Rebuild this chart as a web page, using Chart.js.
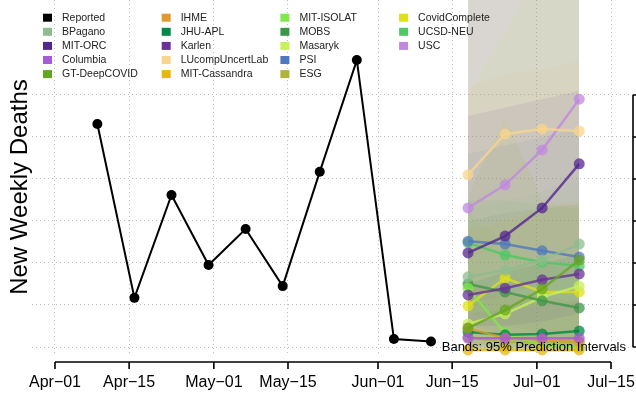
<!DOCTYPE html>
<html>
<head>
<meta charset="utf-8">
<script src="https://cdn.jsdelivr.net/npm/chart.js@4/dist/chart.umd.min.js"></script>
<style>
  html, body { margin: 0; padding: 0; background: #fff; }
  #wrap { width: 636px; height: 397px; }
</style>
</head>
<body>
<div id="wrap"><canvas id="deaths"></canvas></div>
<script>
// observed weekly deaths
var reportedDates = ['2020-04-09', '2020-04-16', '2020-04-23', '2020-04-30', '2020-05-07',
  '2020-05-14', '2020-05-21', '2020-05-28', '2020-06-04', '2020-06-11'];
var reportedDeaths = [631, 217, 462, 295, 381, 245, 517, 783, 119, 113];

// forecasts, one row per model
var forecastDates = ['2020-06-18', '2020-06-25', '2020-07-02', '2020-07-09'];
var modelNames = ['BPagano', 'MIT-ORC', 'Columbia', 'GT-DeepCOVID', 'IHME', 'JHU-APL', 'Karlen',
  'LUcompUncertLab', 'MIT-Cassandra', 'MIT-ISOLAT', 'MOBS', 'Masaryk', 'PSI', 'ESG',
  'CovidComplete', 'UCSD-NEU', 'USC'];
var modelColors = ['143,188,143', '84,39,143', '166,90,214', '102,166,30', '224,154,48', '0,136,68',
  '106,50,150', '248,212,140', '230,184,10', '127,232,72', '62,150,72', '200,240,90', '80,120,190',
  '176,180,56', '224,224,20', '80,200,100', '192,136,224'];
var medianDeaths = [
  [267, 283, 307, 345], [324, 364, 431, 536], [121, 121, 121, 121], [145, 188, 238, 307],
  [145, 121, 117, 112], [136, 129, 131, 138], [224, 240, 260, 274], [510, 607, 619, 614],
  [93, 93, 93, 93], [240, 133, 105, 100], [250, 231, 210, 193], [155, 179, 219, 245],
  [352, 345, 329, 314], [124, 112, 112, 112], [198, 264, 231, 231], [348, 319, 302, 293],
  [431, 486, 569, 690]
];
var upperDeaths = [
  [430, 450, 470, 500], [950, 1100, 1300, 1500], [180, 190, 200, 210], [950, 1050, 1150, 1300],
  [250, 230, 220, 210], [250, 280, 300, 320], [650, 670, 690, 710], [720, 750, 760, 780],
  [380, 400, 430, 450], [420, 350, 300, 280], [400, 420, 430, 440], [700, 850, 1000, 1200],
  [560, 580, 600, 620], [950, 1000, 1100, 1200], [460, 650, 450, 430], [450, 450, 440, 430],
  [1000, 1200, 1400, 1600]
];
var lowerDeaths = [
  [120, 110, 110, 110], [150, 150, 160, 180], [95, 95, 95, 95], [90, 90, 90, 90],
  [95, 92, 90, 90], [95, 92, 90, 90], [100, 100, 100, 100], [300, 350, 330, 320],
  [88, 88, 88, 88], [95, 90, 88, 88], [110, 100, 95, 90], [95, 95, 100, 100],
  [150, 130, 110, 100], [90, 90, 90, 90], [100, 110, 100, 100], [180, 150, 130, 120],
  [200, 220, 250, 280]
];

// axes
var xTickDates = ['2020-04-01', '2020-04-15', '2020-05-01', '2020-05-15', '2020-06-01',
  '2020-06-15', '2020-07-01', '2020-07-15'];
var xTickLabels = ['Apr\u221201', 'Apr\u221215', 'May\u221201', 'May\u221215', 'Jun\u221201',
  'Jun\u221215', 'Jul\u221201', 'Jul\u221215'];
var yTickValues = [100, 200, 300, 400, 500, 600, 700];

var FONT = '"Liberation Sans", Arial, Helvetica, sans-serif';

function dayOf(s) {
  return (Date.parse(s) - Date.parse('2020-04-01')) / 86400000;
}
function toPoints(dates, vals) {
  return dates.map(function (d, i) { return { x: dayOf(d), y: vals[i] }; });
}

var datasets = [{
  label: 'Reported',
  data: toPoints(reportedDates, reportedDeaths),
  borderColor: '#000',
  backgroundColor: '#000',
  borderWidth: 2,
  pointRadius: 5,
  pointBorderWidth: 0,
  legendColor: '#000',
  tension: 0
}];
modelNames.forEach(function (name, i) {
  datasets.push({
    label: name,
    data: toPoints(forecastDates, medianDeaths[i]),
    borderColor: 'rgba(' + modelColors[i] + ',0.8)',
    backgroundColor: 'rgba(' + modelColors[i] + ',0.75)',
    borderWidth: 2.5,
    pointRadius: 5.5,
    pointBorderWidth: 0,
    legendColor: 'rgb(' + modelColors[i] + ')',
    tension: 0
  });
});
// prediction bands go last so they are painted underneath
modelNames.forEach(function (name, i) {
  datasets.push({
    label: name + ' upper',
    data: toPoints(forecastDates, upperDeaths[i]),
    fill: '+1',
    backgroundColor: 'rgba(' + modelColors[i] + ',0.09)',
    borderWidth: 0,
    pointRadius: 0,
    isBand: true
  });
  datasets.push({
    label: name + ' lower',
    data: toPoints(forecastDates, lowerDeaths[i]),
    fill: false,
    borderWidth: 0,
    pointRadius: 0,
    isBand: true
  });
});

var axesAndLegend = {
  id: 'axesAndLegend',
  afterDraw: function (chart) {
    var ctx = chart.ctx, xs = chart.scales.x, ys = chart.scales.y;
    ctx.save();
    ctx.strokeStyle = '#000';
    ctx.fillStyle = '#000';
    ctx.lineWidth = 1.6;

    // bottom axis
    var axY = 362;
    var x0 = xs.getPixelForValue(dayOf(xTickDates[0]));
    var x1 = xs.getPixelForValue(dayOf(xTickDates[xTickDates.length - 1]));
    ctx.beginPath();
    ctx.moveTo(x0, axY); ctx.lineTo(x1, axY);
    xTickDates.forEach(function (d) {
      var px = xs.getPixelForValue(dayOf(d));
      ctx.moveTo(px, axY); ctx.lineTo(px, axY + 7);
    });
    ctx.stroke();
    ctx.font = '16px ' + FONT;
    ctx.textAlign = 'center';
    ctx.textBaseline = 'middle';
    xTickDates.forEach(function (d, i) {
      ctx.fillText(xTickLabels[i], xs.getPixelForValue(dayOf(d)), 383);
    });

    // right axis, labels fall outside the page
    var axX = 633;
    ctx.beginPath();
    ctx.moveTo(axX, ys.getPixelForValue(yTickValues[0]));
    ctx.lineTo(axX, ys.getPixelForValue(yTickValues[yTickValues.length - 1]));
    yTickValues.forEach(function (v) {
      var py = ys.getPixelForValue(v);
      ctx.moveTo(axX, py); ctx.lineTo(axX + 7, py);
    });
    ctx.stroke();

    // y title
    ctx.save();
    ctx.translate(20, 187);
    ctx.rotate(-Math.PI / 2);
    ctx.font = '24px ' + FONT;
    ctx.fillText('New Weekly Deaths', 0, 0);
    ctx.restore();

    // legend, filled column by column
    ctx.font = '10.5px ' + FONT;
    ctx.textAlign = 'left';
    var items = chart.data.datasets.filter(function (ds) { return !ds.isBand; });
    items.forEach(function (ds, i) {
      var col = Math.floor(i / 5), row = i % 5;
      var lx = 43 + col * 118.7, ly = 17.7 + row * 14.1;
      ctx.fillStyle = ds.legendColor;
      ctx.fillRect(lx, ly - 4, 9, 8);
      ctx.fillStyle = '#222';
      ctx.fillText(ds.label, lx + 19, ly + 0.5);
    });

    // band note
    ctx.font = '13px ' + FONT;
    ctx.textAlign = 'right';
    ctx.fillStyle = '#000';
    ctx.fillText('Bands: 95% Prediction Intervals', 626, 347);
    ctx.restore();
  }
};

new Chart(document.getElementById('deaths'), {
  type: 'line',
  data: { datasets: datasets },
  options: {
    responsive: true,
    maintainAspectRatio: false,
    animation: false,
    layout: { padding: 0, autoPadding: false },
    plugins: {
      legend: { display: false },
      tooltip: { enabled: false },
      filler: { propagate: false }
    },
    scales: {
      x: {
        type: 'linear',
        min: -4.343,
        max: 109.72,
        afterBuildTicks: function (s) {
          s.ticks = xTickDates.map(function (d) { return { value: dayOf(d) }; });
        },
        afterFit: function (s) { s.height = 41; },
        ticks: { display: false },
        grid: { color: '#bdbdbd', lineWidth: 1, drawTicks: false },
        border: { display: false, dash: [1, 3] }
      },
      y: {
        type: 'linear',
        min: 78.6,
        max: 926,
        afterBuildTicks: function (s) {
          s.ticks = yTickValues.map(function (v) { return { value: v }; });
        },
        afterFit: function (s) { s.width = 32; },
        ticks: { display: false },
        grid: { color: '#bdbdbd', lineWidth: 1, drawTicks: false },
        border: { display: false, dash: [1, 3] }
      }
    }
  },
  plugins: [axesAndLegend]
});
</script>
</body>
</html>
